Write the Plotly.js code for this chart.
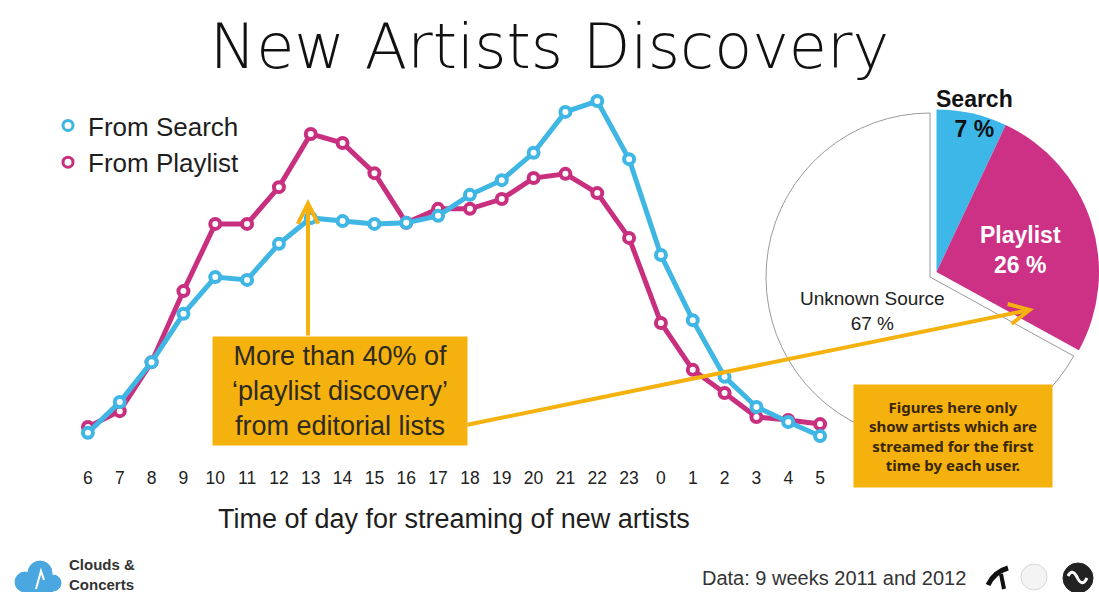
<!DOCTYPE html>
<html>
<head>
<meta charset="utf-8">
<script src="https://cdn.plot.ly/plotly-3.0.1.min.js"></script>
<style>
html,body{margin:0;padding:0;background:#ffffff;}
#chart{width:1099px;height:592px;}
</style>
</head>
<body>
<div id="chart"></div>
<script>
// ---- data ----
const hours = ['6','7','8','9','10','11','12','13','14','15','16','17','18','19','20','21','22','23','0','1','2','3','4','5'];
const fromSearch = [4.9,13.7,25.1,38.9,49.4,48.6,58.9,66.3,65.4,64.6,64.9,66.9,72.9,77.1,84.9,96.6,99.7,83.1,55.7,37.1,20.9,12.3,8.0,4.0];
const fromPlaylist = [6.6,11.1,25.1,45.4,64.6,64.6,75.1,90.3,87.7,79.1,64.9,68.9,68.9,71.7,77.7,78.9,73.4,60.6,36.3,22.9,16.3,9.4,8.6,7.4];
const seriesNames = ['From Search','From Playlist'];
const pieLabels = ['Search','Playlist','Unknown Source'];
const pieValues = [7,26,67];

// ---- style ----
const W = 1099, H = 592;
const fx = p => p / W;
const fy = p => (H - p) / H;
const cSearch = '#3fb6e3';
const cPlaylist = '#c8307f';
const cPieSearch = '#3cb7e8';
const cPiePlaylist = '#cc3185';
const cOrange = '#f5b10d';
const clear = 'rgba(0,0,0,0)';
const font = 'Liberation Sans, Arial, Helvetica, sans-serif';

const lineTrace = (y, name, color) => ({
  type: 'scatter', mode: 'lines+markers', x: hours, y: y, name: name,
  showlegend: false, hoverinfo: 'skip', cliponaxis: false,
  line: {color: color, width: 5},
  marker: {symbol: 'circle', size: 10, color: '#ffffff', line: {color: color, width: 4}}
});
const legendTrace = (name, color) => ({
  type: 'scatter', mode: 'markers', x: [null], y: [null], name: name,
  hoverinfo: 'skip',
  marker: {symbol: 'circle', size: 10, color: '#ffffff', line: {color: color, width: 3}}
});

const pieBase = {
  type: 'pie', labels: pieLabels, values: pieValues, sort: false,
  direction: 'clockwise', rotation: 0, textinfo: 'none', hoverinfo: 'skip',
  showlegend: false
};

const traces = [
  legendTrace(seriesNames[0], cSearch),
  legendTrace(seriesNames[1], cPlaylist),
  lineTrace(fromPlaylist, seriesNames[1], cPlaylist),
  lineTrace(fromSearch, seriesNames[0], cSearch),
  Object.assign({}, pieBase, {
    domain: {x: [fx(766), fx(1094)], y: [fy(441), fy(113)]},
    marker: {colors: [clear, clear, '#ffffff'], line: {color: [clear, clear, '#9a9a9a'], width: [0, 0, 1]}}
  }),
  Object.assign({}, pieBase, {
    domain: {x: [fx(774), 1], y: [fy(436), fy(108)]},
    marker: {colors: [cPieSearch, cPiePlaylist, clear], line: {color: [clear, clear, clear], width: [0, 0, 0]}}
  })
];

const txt = (x, y, text, f, extra) => Object.assign({
  xref: 'paper', yref: 'paper', x: fx(x), y: fy(y), xanchor: 'center', yanchor: 'middle',
  showarrow: false, text: text, font: f
}, extra || {});

const annotations = [
  // x-axis title
  txt(454, 519, 'Time of day for streaming of new artists', {family: font, size: 27, color: '#1e1e1e'}),
  // callout box
  txt(340, 391, 'More than 40% of<br>‘playlist discovery’<br>from editorial lists',
      {family: font, size: 27, color: '#2e2a20'},
      {bgcolor: cOrange, width: 248, height: 102, borderpad: 3}),
  // arrows
  {xref: 'paper', yref: 'paper', x: fx(308), y: fy(199), ax: 0, ay: 138, text: '',
   showarrow: true, arrowhead: 5, arrowsize: 1, arrowwidth: 4, arrowcolor: cOrange},
  {xref: 'paper', yref: 'paper', x: fx(1034), y: fy(309), ax: -568, ay: 116, text: '',
   showarrow: true, arrowhead: 5, arrowsize: 1, arrowwidth: 4, arrowcolor: cOrange},
  // pie labels
  txt(974, 114, '<b>Search<br>7 %</b>', {family: font, size: 23, color: '#111111'}),
  txt(1020, 250, '<b>Playlist<br>26 %</b>', {family: font, size: 23, color: '#ffffff'}),
  txt(872, 311, 'Unknown Source<br>67 %', {family: font, size: 19, color: '#222222'}),
  // note
  txt(953, 436, 'Figures here only<br>show artists which are<br>streamed for the first<br>time by each user.',
      {family: 'Noto Sans, DejaVu Sans, sans-serif', size: 15, color: '#3a2706', weight: 'bold'},
      {bgcolor: cOrange, width: 192, height: 96, borderpad: 3}),
  // footer
  txt(700, 578, 'Data: 9 weeks 2011 and 2012', {family: font, size: 20, color: '#333333'}, {xanchor: 'left'}),
  txt(67, 574, '<b>Clouds &amp;<br>Concerts</b>',
      {family: 'Liberation Sans Narrow, Liberation Sans, sans-serif', size: 15, color: '#333333'},
      {xanchor: 'left', align: 'left'})
];

const circ = (cx, cy, r, fill, line) => ({
  type: 'circle', xref: 'paper', yref: 'paper', layer: 'above',
  x0: fx(cx - r), x1: fx(cx + r), y0: fy(cy + r), y1: fy(cy - r),
  fillcolor: fill, line: {color: line || fill, width: 1}
});
const shapes = [
  // cloud logo
  circ(25, 582, 10, '#4aa7e0'),
  circ(40, 573, 12, '#4aa7e0'),
  circ(53, 583, 8, '#4aa7e0'),
  {type: 'rect', xref: 'paper', yref: 'paper', layer: 'above', x0: fx(25), x1: fx(53), y0: fy(592), y1: fy(580), fillcolor: '#4aa7e0', line: {width: 0}},
  {type: 'path', xref: 'paper', yref: 'paper', layer: 'above',
   path: `M ${fx(36)} ${fy(589)} L ${fx(41)} ${fy(571)} L ${fx(44)} ${fy(580)}`, line: {color: '#ffffff', width: 2}},
  // right logos
  {type: 'path', xref: 'paper', yref: 'paper', layer: 'above',
   path: `M ${fx(988)} ${fy(585)} Q ${fx(994)} ${fy(572)} ${fx(1008)} ${fy(568)}`, line: {color: '#111111', width: 5}},
  {type: 'path', xref: 'paper', yref: 'paper', layer: 'above',
   path: `M ${fx(1001)} ${fy(574)} L ${fx(1004)} ${fy(589)}`, line: {color: '#111111', width: 4}},
  circ(1034, 577, 13, '#f4f4f4', '#d8d8d8'),
  circ(1078, 578, 15, '#222222'),
  {type: 'path', xref: 'paper', yref: 'paper', layer: 'above',
   path: `M ${fx(1068)} ${fy(576)} Q ${fx(1072)} ${fy(568)} ${fx(1077)} ${fy(577)} Q ${fx(1082)} ${fy(588)} ${fx(1087)} ${fy(578)}`, line: {color: '#ffffff', width: 3}}
];

const layout = {
  width: W, height: H,
  margin: {l: 0, r: 0, t: 0, b: 0},
  paper_bgcolor: '#ffffff', plot_bgcolor: 'rgba(0,0,0,0)',
  font: {family: font, color: '#222222'},
  title: {text: 'New Artists Discovery', x: 0.5, xanchor: 'center', y: fy(46), yanchor: 'middle',
          font: {family: 'DejaVu Sans, Open Sans, sans-serif', size: 62, weight: 200, color: '#111111'}},
  showlegend: true,
  legend: {x: fx(48), y: fy(102), xanchor: 'left', yanchor: 'top', bgcolor: clear,
           font: {family: font, size: 26, color: '#1e1e1e'}, itemclick: false, itemdoubleclick: false},
  xaxis: {type: 'category', domain: [fx(72), fx(836)], range: [-0.5, 23.5],
          showgrid: false, zeroline: false, showline: false,
          ticks: 'outside', ticklen: 12, tickcolor: clear,
          tickfont: {family: font, size: 17.5, color: '#222222'}, fixedrange: true},
  yaxis: {domain: [fy(450), fy(100)], range: [0, 100], visible: false, fixedrange: true},
  annotations: annotations,
  shapes: shapes
};

Plotly.newPlot('chart', traces, layout, {displayModeBar: false, staticPlot: true});
</script>
</body>
</html>
